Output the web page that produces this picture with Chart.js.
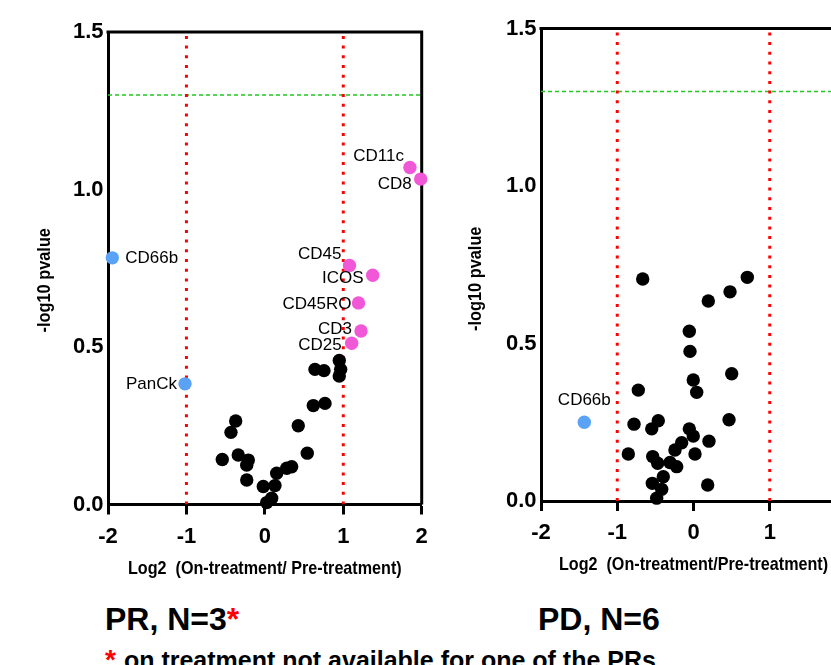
<!DOCTYPE html>
<html>
<head>
<meta charset="utf-8">
<script src="https://cdn.jsdelivr.net/npm/chart.js@4.4.1/dist/chart.umd.min.js"></script>
<style>
  html, body { margin: 0; padding: 0; background: #fff; overflow: hidden; width: 831px; height: 665px; }
  body { position: relative; font-family: "Liberation Sans", Arial, sans-serif; }
  canvas { position: absolute; top: 0; }
  #prChart { left: 0; }
  #pdChart { left: 433px; }
  .panel-title { position: absolute; top: 601px; font-size: 32px; font-weight: bold; color: #000; white-space: nowrap; }
  .star { color: #ff0000; }
  #note { position: absolute; left: 105px; top: 644px; font-size: 25px; font-weight: bold; white-space: nowrap; }
  #note .star { font-size: 28px; margin-right: 8px; }
</style>
</head>
<body>
<canvas id="prChart" width="440" height="600"></canvas>
<canvas id="pdChart" width="440" height="600"></canvas>
<div class="panel-title" style="left:105px">PR, N=3<span class="star">*</span></div>
<div class="panel-title" style="left:538px">PD, N=6</div>
<div id="note"><span class="star">*</span>on treatment not available for one of the PRs</div>
<script>
// axis ticks
const xTicks = [-2, -1, 0, 1, 2];
const yTicks = [0, 0.5, 1.0, 1.5];
// cut-offs
const foldCuts = [-1, 1];
const pCut = 1.3;

// PR: markers not labelled
const prOtherX = [0.949, 0.639, 0.754, 0.967, 0.949, 0.618, 0.767, 0.426, -0.372, -0.432, -0.543, -0.339,
    -0.211, -0.231, -0.231, 0.541, 0.342, 0.279, 0.151, 0.129, -0.020, 0.087, 0.024];
const prOtherY = [0.457, 0.429, 0.425, 0.429, 0.408, 0.314, 0.321, 0.250, 0.265, 0.229, 0.143, 0.157,
    0.141, 0.125, 0.078, 0.163, 0.120, 0.115, 0.099, 0.060, 0.057, 0.020, 0.006];
// PR: up
const prUpNames = ["CD11c", "CD8", "CD45", "ICOS", "CD45RO", "CD3", "CD25"];
const prUpX = [1.850, 1.987, 1.079, 1.375, 1.194, 1.226, 1.107];
const prUpY = [1.070, 1.033, 0.759, 0.728, 0.640, 0.551, 0.512];
// PR: down
const prDownNames = ["CD66b", "PanCk"];
const prDownX = [-1.945, -1.018];
const prDownY = [0.783, 0.383];

// PD: markers not labelled
const pdOtherX = [-0.666, 0.706, 0.479, 0.194, -0.055, -0.046, 0.501, -0.003, 0.042, -0.724, 0.466, -0.780,
    -0.462, -0.548, -0.055, -0.003, 0.203, -0.155, -0.243, -0.855, -0.535, -0.470, -0.308, -0.220, 0.020,
    -0.396, -0.540, -0.417, -0.483, 0.186];
const pdOtherY = [0.705, 0.710, 0.664, 0.635, 0.539, 0.475, 0.404, 0.384, 0.345, 0.352, 0.258, 0.244,
    0.255, 0.229, 0.229, 0.206, 0.190, 0.185, 0.162, 0.149, 0.141, 0.120, 0.122, 0.109, 0.149,
    0.077, 0.056, 0.037, 0.009, 0.051];
// PD: down
const pdDownNames = ["CD66b"];
const pdDownX = [-1.432];
const pdDownY = [0.250];

// label placement relative to the marker
const prLabelPlace = {
    CD11c: { dx: -6, dy: -11, align: "right" },
    CD8: { dx: -9, dy: 5, align: "right" },
    CD45: { dx: -8, dy: -11, align: "right" },
    ICOS: { dx: -9, dy: 3, align: "right" },
    CD45RO: { dx: -7, dy: 1, align: "right" },
    CD3: { dx: -9, dy: -2, align: "right" },
    CD25: { dx: -10, dy: 2, align: "right" },
    CD66b: { dx: 13, dy: 0, align: "left" },
    PanCk: { dx: -8, dy: 0, align: "right" },
};
const pdLabelPlace = {
    CD66b: { dx: 0, dy: -22, align: "center" },
};

const pts = (xs, ys) => xs.map((x, i) => ({ x, y: ys[i] }));

const pointLabels = {
    id: "pointLabels",
    afterDatasetsDraw(chart, args, opts) {
        const ctx = chart.ctx;
        ctx.save();
        ctx.font = '17px "Liberation Sans", Arial, sans-serif';
        ctx.fillStyle = "#000";
        ctx.textBaseline = "middle";
        chart.data.datasets.forEach((ds, i) => {
            if (!ds.names) return;
            chart.getDatasetMeta(i).data.forEach((el, j) => {
                const p = opts.place[ds.names[j]];
                ctx.textAlign = p.align;
                ctx.fillText(ds.names[j], el.x + p.dx, el.y + p.dy);
            });
        });
        ctx.restore();
    },
};

// top and right edges of the frame
const frame = {
    id: "frame",
    beforeDatasetsDraw(chart) {
        const { ctx, chartArea: a } = chart;
        ctx.save();
        ctx.strokeStyle = "#000";
        ctx.lineWidth = 3;
        ctx.beginPath();
        ctx.moveTo(a.left - 1.5, a.top);
        ctx.lineTo(a.right, a.top);
        ctx.lineTo(a.right, a.bottom);
        ctx.stroke();
        ctx.restore();
    },
};

// condensed axis titles
const axisTitles = {
    id: "axisTitles",
    afterDraw(chart, args, o) {
        const { ctx, chartArea: a } = chart;
        ctx.save();
        ctx.font = 'bold 19px "Liberation Sans", Arial, sans-serif';
        ctx.fillStyle = "#000";
        ctx.textAlign = "center";
        ctx.textBaseline = "middle";
        ctx.translate((a.left + a.right) / 2, a.bottom + o.xDy);
        ctx.scale(0.85, 1);
        ctx.fillText(o.xText, 0, 0);
        ctx.restore();
        ctx.save();
        ctx.font = 'bold 19px "Liberation Sans", Arial, sans-serif';
        ctx.fillStyle = "#000";
        ctx.textAlign = "center";
        ctx.textBaseline = "middle";
        ctx.translate(a.left + o.yDx, (a.top + a.bottom) / 2 + o.yDy);
        ctx.rotate(-Math.PI / 2);
        ctx.scale(0.86, 1);
        ctx.fillText(o.yText, 0, 0);
        ctx.restore();
    },
};

function cutLines() {
    const lines = foldCuts.map((c) => ({
        type: "scatter",
        data: [{ x: c, y: yTicks[0] }, { x: c, y: yTicks[yTicks.length - 1] }],
        showLine: true,
        borderColor: "#ff0000",
        borderWidth: 3,
        borderDash: [3, 6.7],
        pointRadius: 0,
    }));
    lines.push({
        type: "scatter",
        data: [{ x: xTicks[0], y: pCut }, { x: xTicks[xTicks.length - 1], y: pCut }],
        showLine: true,
        borderColor: "#22c822",
        borderWidth: 1.5,
        borderDash: [4, 3],
        pointRadius: 0,
    });
    return lines;
}

function volcano(id, sets, place, pad, xHeight, titles) {
    return new Chart(document.getElementById(id), {
        type: "scatter",
        data: { datasets: sets.concat(cutLines()) },
        options: {
            responsive: false,
            animation: false,
            layout: { padding: pad },
            plugins: {
                legend: { display: false },
                tooltip: { enabled: false },
                pointLabels: { place },
                axisTitles: titles,
            },
            scales: {
                x: {
                    type: "linear",
                    min: xTicks[0],
                    max: xTicks[xTicks.length - 1],
                    afterBuildTicks: (s) => { s.ticks = xTicks.map((v) => ({ value: v })); },
                    afterFit: (s) => { s.height = xHeight; },
                    ticks: {
                        color: "#000",
                        padding: 9,
                        font: { family: '"Liberation Sans", Arial', size: 22, weight: "bold" },
                    },
                    grid: { drawOnChartArea: false, tickLength: 10, tickWidth: 3, tickColor: "#000" },
                    border: { display: true, color: "#000", width: 3 },
                },
                y: {
                    type: "linear",
                    min: yTicks[0],
                    max: yTicks[yTicks.length - 1],
                    afterBuildTicks: (s) => { s.ticks = yTicks.map((v) => ({ value: v })); },
                    afterFit: (s) => { s.width = 108; },
                    ticks: {
                        color: "#000",
                        padding: 4.5,
                        callback: (v) => v.toFixed(1),
                        font: { family: '"Liberation Sans", Arial', size: 22, weight: "bold" },
                    },
                    grid: { display: false, drawTicks: false },
                    border: { display: true, color: "#000", width: 3 },
                },
            },
        },
        plugins: [frame, pointLabels, axisTitles],
    });
}

const dot = { pointRadius: 6.7, pointHoverRadius: 6.7, pointBorderWidth: 0, clip: false };

volcano("prChart", [
    { ...dot, names: prDownNames, data: pts(prDownX, prDownY), backgroundColor: "#5aa2f5" },
    { ...dot, names: prUpNames, data: pts(prUpX, prUpY), backgroundColor: "#f058d8" },
    { ...dot, data: pts(prOtherX, prOtherY), backgroundColor: "#000" },
], prLabelPlace, { top: 32, right: 18.3, bottom: 0, left: 0 }, 95.5,
    { xText: "Log2  (On-treatment/ Pre-treatment)", yText: "-log10 pvalue", xDy: 64, yDx: -63, yDy: 12 });

volcano("pdChart", [
    { ...dot, names: pdDownNames, data: pts(pdDownX, pdDownY), backgroundColor: "#5aa2f5" },
    { ...dot, data: pts(pdOtherX, pdOtherY), backgroundColor: "#000" },
], pdLabelPlace, { top: 28.5, right: 27, bottom: 0, left: 0 }, 99,
    { xText: "Log2  (On-treatment/Pre-treatment)", yText: "-log10 pvalue", xDy: 64, yDx: -65, yDy: 14 });
</script>
</body>
</html>
